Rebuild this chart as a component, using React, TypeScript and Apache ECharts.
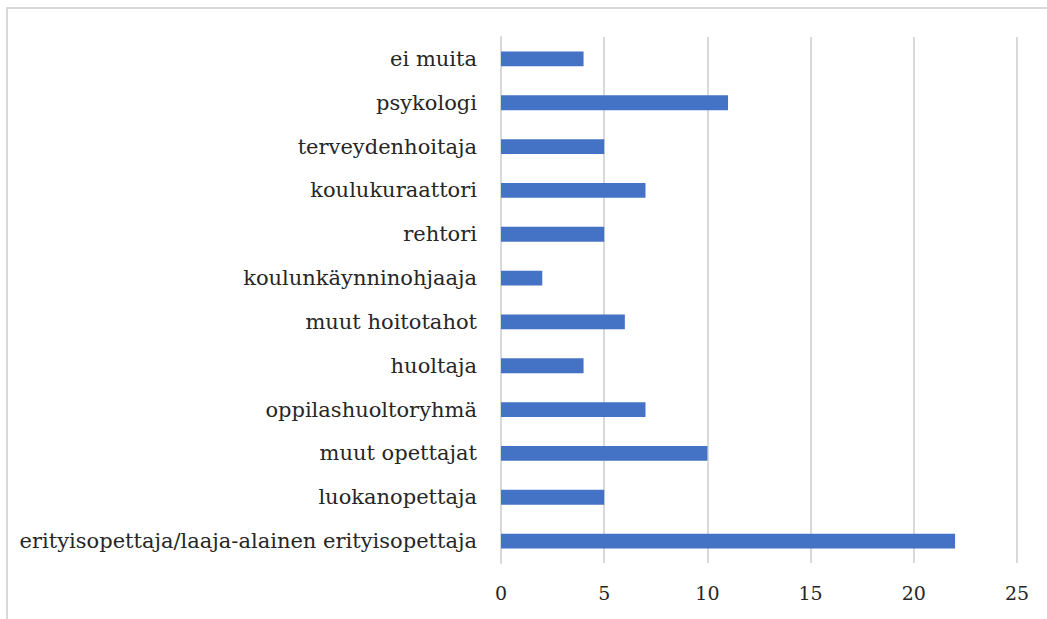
import React, { useEffect, useRef } from "react";
import * as echarts from "echarts";

const categories = [
  "erityisopettaja/laaja-alainen erityisopettaja",
  "luokanopettaja",
  "muut opettajat",
  "oppilashuoltoryhmä",
  "huoltaja",
  "muut hoitotahot",
  "koulunkäynninohjaaja",
  "rehtori",
  "koulukuraattori",
  "terveydenhoitaja",
  "psykologi",
  "ei muita",
];
const values = [22, 5, 10, 7, 4, 6, 2, 5, 7, 5, 11, 4];

export default function App() {
  const ref = useRef<HTMLDivElement>(null);
  useEffect(() => {
    if (!ref.current) return;
    const chart = echarts.init(ref.current, undefined, { renderer: "svg" });
    const font = "DejaVu Serif";
    chart.setOption({
      animation: false,
      backgroundColor: "#ffffff",
      textStyle: { fontFamily: font },
      graphic: [
        {
          type: "rect",
          shape: { x: 7, y: 8, width: 1080, height: 660 },
          style: { fill: "none", stroke: "#d9d9d9", lineWidth: 2 },
          silent: true,
        },
      ],
      grid: { left: 501, right: 30, top: 37, bottom: 56 },
      xAxis: {
        type: "value",
        min: 0,
        max: 25,
        interval: 5,
        axisLine: { show: false },
        axisTick: { show: false },
        splitLine: { show: true, lineStyle: { color: "#d9d9d9", width: 2 } },
        axisLabel: { color: "#262626", fontSize: 19, fontFamily: font, margin: 20 },
      },
      yAxis: {
        type: "category",
        data: categories,
        axisLine: { show: true, lineStyle: { color: "#d9d9d9", width: 2 } },
        axisTick: { show: false },
        axisLabel: { color: "#262626", fontSize: 21, fontFamily: font, margin: 24 },
      },
      series: [
        {
          type: "bar",
          data: values,
          barWidth: "34%",
          itemStyle: { color: "#4472c4" },
        },
      ],
    });
    return () => chart.dispose();
  }, []);
  return (
    <div
      ref={ref}
      style={{ position: "absolute", left: 0, top: 0, width: 1047, height: 619 }}
    />
  );
}
